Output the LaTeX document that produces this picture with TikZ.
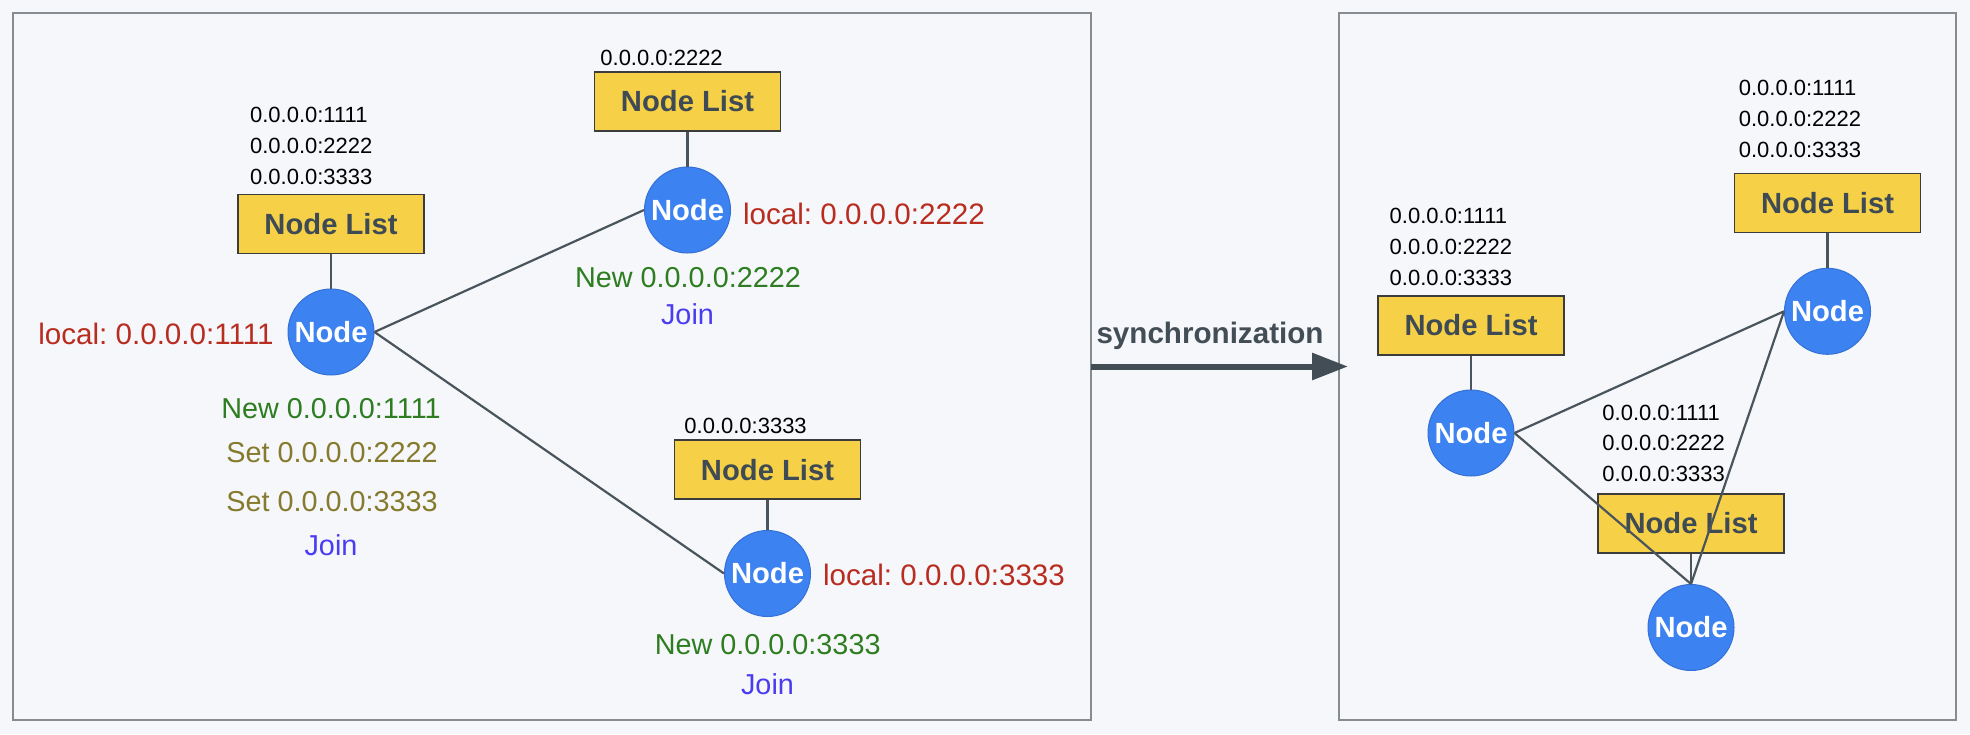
\documentclass[tikz,border=0pt]{standalone}
\usepackage{fontspec}
\setmainfont{Liberation Sans}
\usetikzlibrary{arrows.meta}
\frenchspacing
\definecolor{bgc}{HTML}{F5F7FA}
\definecolor{panelborder}{HTML}{878C91}
\definecolor{nlyellow}{HTML}{F6D148}
\definecolor{nlborder}{HTML}{3C3C3C}
\definecolor{darktext}{HTML}{3E4A54}
\definecolor{peerblue}{HTML}{3C82F1}
\definecolor{peerborder}{HTML}{3570D6}
\definecolor{linkgray}{HTML}{4A545C}
\definecolor{arrowgray}{HTML}{424D56}
\definecolor{localred}{HTML}{B92C20}
\definecolor{newgreen}{HTML}{2E7D21}
\definecolor{setolive}{HTML}{857A2D}
\definecolor{joinblue}{HTML}{4A3CF0}
\begin{document}
\frenchspacing
\begin{tikzpicture}[x=0.5pt,y=-0.5pt,
  panel/.style={draw=panelborder, line width=0.75pt},
  nodelist/.style={draw=nlborder, line width=0.9pt, fill=nlyellow, minimum width=93pt, minimum height=29.5pt, inner sep=0pt, font=\fontsize{14.6}{17}\selectfont\bfseries, text=darktext},
  peer/.style={circle, draw=peerborder, line width=0.5pt, fill=peerblue, minimum size=43pt, inner sep=0pt, font=\fontsize{14.6}{17}\selectfont\bfseries, text=white},
  lbl/.style={inner sep=0pt, anchor=base, font=\fontsize{14.4}{17}\selectfont},
  locallbl/.style={lbl, font=\fontsize{14.8}{17}\selectfont, text=localred},
  addr/.style={inner sep=0pt, anchor=base west, font=\fontsize{11}{13}\selectfont, text=black},
  link/.style={draw=linkgray, line width=1.1pt},
  syncarrow/.style={draw=arrowgray, line width=3pt, -{Triangle[length=18pt, width=13pt]}}
]
\fill[bgc] (0,0) rectangle (1970,734);
\useasboundingbox (0,0) rectangle (1970,734);

% panels
\draw[panel] (13,13) rectangle (1091,720);
\draw[panel] (1339,13) rectangle (1956,720);

% sync arrow
\coordinate (arrowstart) at (1091,366.5);
\coordinate (arrowend) at (1348,366.5);
\draw[syncarrow] (arrowstart) -- (arrowend);
\node[inner sep=0pt, anchor=base, font=\fontsize{14.8}{17}\selectfont\bfseries, text=arrowgray] (synclbl) at (1210,343) {synchronization};

% ---------- left diagram ----------
\node[nodelist] (nl1) at (331,224) {Node List};
\node[peer] (n1) at (331,332) {Node};
\node[addr] (a11) at (249.7,122.5) {0.0.0.0:1111};
\node[addr] (a12) at (249.7,153.5) {0.0.0.0:2222};
\node[addr] (a13) at (249.7,184.5) {0.0.0.0:3333};
\node[locallbl] (l1) at (156,344) {local: 0.0.0.0:1111};
\node[lbl, text=newgreen] (new1) at (331,418) {New 0.0.0.0:1111};
\node[lbl, text=setolive] (set12) at (332,462) {Set 0.0.0.0:2222};
\node[lbl, text=setolive] (set13) at (332,511.5) {Set 0.0.0.0:3333};
\node[lbl, text=joinblue] (join1) at (331,555) {Join};

\node[nodelist] (nl2) at (687.5,101.3) {Node List};
\node[peer] (n2) at (687.5,210) {Node};
\node[addr] (a22) at (600,65.5) {0.0.0.0:2222};
\node[locallbl] (l2) at (864,224.7) {local: 0.0.0.0:2222};
\node[lbl, text=newgreen] (new2) at (688,287) {New 0.0.0.0:2222};
\node[lbl, text=joinblue] (join2) at (687.5,324) {Join};

\node[nodelist] (nl3) at (767.5,469.8) {Node List};
\node[peer] (n3) at (767.5,573.5) {Node};
\node[addr] (a33) at (684,433) {0.0.0.0:3333};
\node[locallbl] (l3) at (944,585) {local: 0.0.0.0:3333};
\node[lbl, text=newgreen] (new3) at (767.7,654.5) {New 0.0.0.0:3333};
\node[lbl, text=joinblue] (join3) at (767.5,694) {Join};

\draw[link] (nl1.south) -- (n1.north);
\draw[link] (nl2.south) -- (n2.north);
\draw[link] (nl3.south) -- (n3.north);
\draw[link] (n1.east) -- (n2.west);
\draw[link] (n1.east) -- (n3.west);

% ---------- right diagram ----------
\node[nodelist] (nla) at (1471,325.2) {Node List};
\node[peer] (pa) at (1471,433) {Node};
\node[addr] (aa1) at (1389.3,223.5) {0.0.0.0:1111};
\node[addr] (aa2) at (1389.3,254.5) {0.0.0.0:2222};
\node[addr] (aa3) at (1389.3,285.5) {0.0.0.0:3333};

\node[nodelist] (nlb) at (1827.5,203) {Node List};
\node[peer] (pb) at (1827.5,311.3) {Node};
\node[addr] (ab1) at (1738.4,95.5) {0.0.0.0:1111};
\node[addr] (ab2) at (1738.4,126.8) {0.0.0.0:2222};
\node[addr] (ab3) at (1738.4,157.8) {0.0.0.0:3333};

\node[nodelist] (nlc) at (1691,523.4) {Node List};
\node[peer] (pc) at (1691,627.5) {Node};
\node[addr] (ac1) at (1602,420) {0.0.0.0:1111};
\node[addr] (ac2) at (1602,450.7) {0.0.0.0:2222};
\node[addr] (ac3) at (1602,481.7) {0.0.0.0:3333};

\draw[link] (nla.south) -- (pa.north);
\draw[link] (nlb.south) -- (pb.north);
\draw[link] (nlc.south) -- (pc.north);
\draw[link] (pa.east) -- (pb.west);
\draw[link] (pa.east) -- (pc.north);
\draw[link] (pb.west) -- (pc.north);
\end{tikzpicture}
\end{document}
